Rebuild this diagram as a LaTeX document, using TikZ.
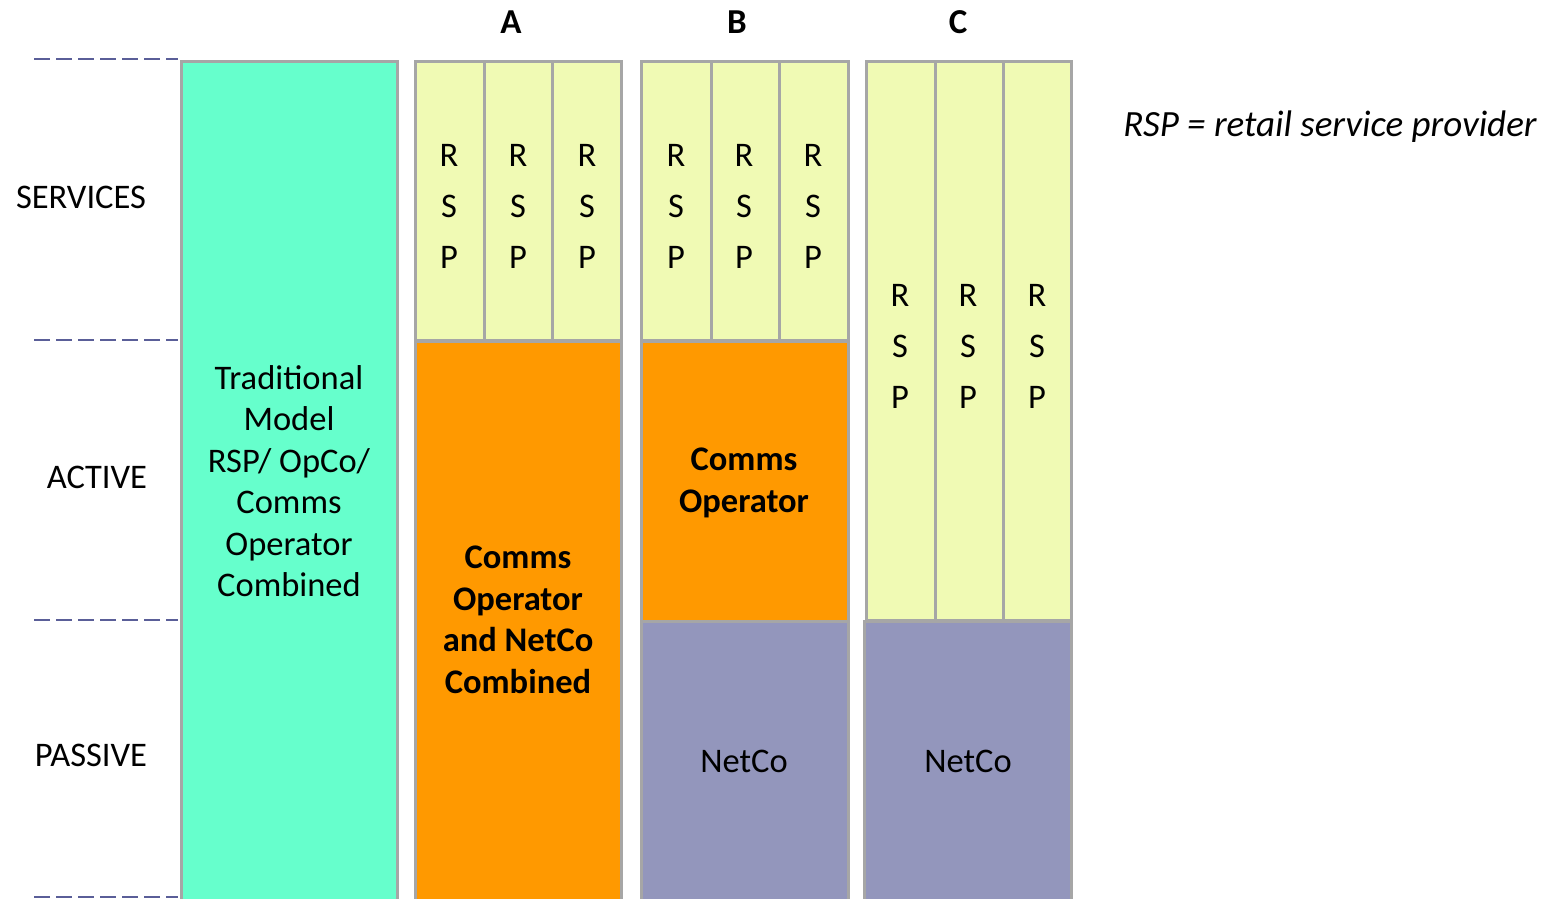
\documentclass[tikz,border=0pt]{standalone}
\usepackage{fontspec}
\setmainfont{Carlito}
\definecolor{trad}{HTML}{66FFCC}
\definecolor{rsp}{HTML}{F0FAB4}
\definecolor{orng}{HTML}{FF9900}
\definecolor{netco}{HTML}{9396BC}
\definecolor{bord}{HTML}{A6A6A6}
\definecolor{dash}{HTML}{5A5E98}
\tikzset{
  box/.style={draw=bord, line width=3pt},
  guide/.style={draw=dash, line width=2.5pt, dash pattern=on 16pt off 6pt},
  txt/.style={font=\fontsize{34.5}{41.5}\selectfont, align=center, inner sep=0pt},
  btxt/.style={font=\fontsize{34.5}{41.5}\selectfont\bfseries, align=center, inner sep=0pt},
  hdr/.style={font=\fontsize{35}{40}\selectfont\bfseries, inner sep=0pt},
  letter/.style={font=\fontsize{34.5}{40}\selectfont, inner sep=0pt}
}
\begin{document}
\begin{tikzpicture}[x=1pt,y=-1pt]
\useasboundingbox (0,0) rectangle (1557,898);
\clip (0,0) rectangle (1557,898);
% guides
\foreach \yy/\nm in {59/g1,340/g2,620/g3,897/g4}{
  \coordinate (\nm a) at (34,\yy);
  \coordinate (\nm b) at (178,\yy);
  \draw[guide] (\nm a) -- (\nm b);
}
% traditional
\draw[box, fill=trad] (181,61) rectangle (397,930);
% A
\draw[box, fill=rsp] (415,61) rectangle (621,340);
\draw[box] (484,61) -- (484,340) (552,61) -- (552,340);
\draw[box, fill=orng] (415,341) rectangle (621,930);
% B
\draw[box, fill=rsp] (641,61) rectangle (848,340);
\draw[box] (711,61) -- (711,340) (779,61) -- (779,340);
\draw[box, fill=orng] (641,341) rectangle (848,621);
\draw[box, fill=netco] (641,621) rectangle (848,930);
% C
\draw[box, fill=rsp] (866,61) rectangle (1071,620);
\draw[box] (935,61) -- (935,620) (1003,61) -- (1003,620);
\draw[box, fill=netco] (864,621) rectangle (1071,930);
% headers
\node[hdr] (hA) at (511,22) {A};
\node[hdr] (hB) at (737,22) {B};
\node[hdr] (hC) at (958,22) {C};
% layer labels
\node[txt] (lserv) at (81,197) {SERVICES};
\node[txt] (lact) at (97,477) {ACTIVE};
\node[txt] (lpass) at (91,755) {PASSIVE};
% RSP letters
\foreach \xx/\nm in {449/a1,518/a2,587/a3,676/b1,744/b2,813/b3}{
  \node[letter] (\nm r) at (\xx,155) {R};
  \node[letter] (\nm s) at (\xx,206) {S};
  \node[letter] (\nm p) at (\xx,257) {P};
}
\foreach \xx/\nm in {900/c1,968/c2,1037/c3}{
  \node[letter] (\nm r) at (\xx,295) {R};
  \node[letter] (\nm s) at (\xx,346) {S};
  \node[letter] (\nm p) at (\xx,397) {P};
}
% box texts
\node[txt] (tradt) at (289,481) {Traditional\\Model\\RSP/ OpCo/\\Comms\\Operator\\Combined};
\node[btxt] (coA) at (518,620) {Comms\\Operator\\and NetCo\\Combined};
\node[btxt] (coB) at (744,483) {Comms\\Operator};
\node[txt] (ncB) at (744,761) {NetCo};
\node[txt] (ncC) at (968,761) {NetCo};
% legend
\node[txt, font=\fontsize{37}{42}\selectfont\itshape] (legend) at (1330,127) {RSP = retail service provider};
\end{tikzpicture}
\end{document}
